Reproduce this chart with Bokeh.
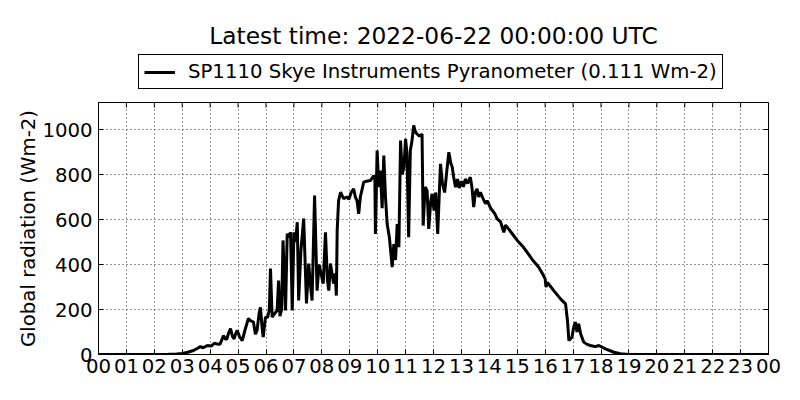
import math
from bokeh.plotting import figure
from bokeh.layouts import column
from bokeh.models import Legend, LegendItem, FixedTicker, Range1d
from bokeh.embed import file_html
from bokeh.resources import INLINE

hours = [0, 1.0, 2.0, 2.5, 2.8, 3.0, 3.2, 3.4, 3.55, 3.65, 3.75, 3.9, 4.05, 4.15, 4.25, 4.35,
         4.48, 4.55, 4.6, 4.66, 4.73, 4.8, 4.86, 4.92, 4.97, 5.05, 5.15, 5.25, 5.37, 5.45, 5.55,
         5.62, 5.68, 5.75, 5.8, 5.86, 5.9, 5.98, 6.06, 6.12, 6.16, 6.22, 6.3, 6.4, 6.45, 6.5,
         6.56, 6.61, 6.7, 6.76, 6.82, 6.88, 6.94, 7.0, 7.06, 7.12, 7.17, 7.25, 7.35, 7.45, 7.53,
         7.6, 7.65, 7.74, 7.83, 7.9, 7.95, 8.05, 8.13, 8.2, 8.25, 8.31, 8.42, 8.48, 8.52, 8.55,
         8.6, 8.67, 8.78, 8.9, 8.97, 9.05, 9.14, 9.2, 9.26, 9.32, 9.38, 9.5, 9.6, 9.74, 9.86,
         9.9, 9.92, 9.98, 10.04, 10.1, 10.16, 10.22, 10.28, 10.34, 10.42, 10.52, 10.58, 10.64,
         10.7, 10.76, 10.82, 10.88, 10.94, 11.0, 11.05, 11.11, 11.17, 11.23, 11.29, 11.35, 11.41,
         11.5, 11.59, 11.63, 11.7, 11.77, 11.83, 11.9, 11.95, 12.02, 12.08, 12.15, 12.25, 12.32,
         12.4, 12.48, 12.55, 12.62, 12.67, 12.72, 12.79, 12.86, 12.92, 13.0, 13.07, 13.14, 13.22,
         13.32, 13.38, 13.44, 13.5, 13.56, 13.62, 13.68, 13.75, 13.86, 13.92, 14.05, 14.2, 14.28,
         14.4, 14.52, 14.58, 14.64, 14.8, 15.0, 15.2, 15.35, 15.55, 15.77, 15.9, 16.0, 16.03,
         16.08, 16.3, 16.55, 16.73, 16.8, 16.85, 16.96, 17.02, 17.08, 17.14, 17.2, 17.27, 17.38,
         17.5, 17.62, 17.8, 17.92, 18.16, 18.46, 18.7, 19.0, 20.0, 21.0, 22.0, 23.0, 24.0]

radiation = [0, 0, 0, 1, 2, 5, 10, 18, 28, 35, 30, 40, 38, 50, 47, 45,
             84, 68, 70, 95, 115, 80, 70, 95, 107, 80, 62, 110, 160, 150, 144,
             90, 107, 180, 210, 120, 77, 166, 165, 200, 382, 166, 180, 196, 329, 170,
             200, 507, 196, 537, 520, 543, 196, 543, 500, 588, 240, 460, 604, 227, 404,
             300, 240, 706, 284, 400, 373, 315, 543, 330, 284, 404, 315, 360, 262, 551,
             684, 721, 693, 700, 690, 720, 736, 700, 684, 625, 700, 766, 770, 773, 795,
             780, 536, 907, 744, 818, 650, 884, 700, 580, 520, 388, 491, 420,
             580, 477, 951, 800, 833, 958, 892, 521, 907, 950, 1018, 990, 980,
             970, 980, 573, 744, 729, 558, 680, 714, 640, 720, 536, 847, 760,
             720, 820, 899, 850, 833, 790, 744, 780, 740, 770, 745, 780, 760,
             788, 740, 655, 720, 736, 700, 721, 700, 670, 684, 650, 625, 603,
             590, 543, 575, 566, 540, 507, 480, 455, 420, 388, 360, 336, 300,
             320, 285, 247, 225, 150, 62, 77, 120, 144, 100, 136, 92, 55,
             45, 40, 35, 40, 25, 10, 3, 0, 0, 0, 0, 0, 0]

x_ticks = list(range(25))
x_labels = ["%02d" % (h % 24) for h in x_ticks]
y_ticks = [0, 200, 400, 600, 800, 1000]
x_min, x_max = 0, 24
y_min, y_max = 0, 1120

title_text = "Latest time: 2022-06-22 00:00:00 UTC"
legend_text = "SP1110 Skye Instruments Pyranometer (0.111 Wm-2)"
y_label = "Global radiation (Wm-2)"
FONT = "DejaVu Sans"
BASE = "19.7px"
LINE_W = 3

# ---- header: title + legend (outside the data frame, as in the reference)
# its y range lies below all data, so the series line used as the legend key stays out of view
head = figure(frame_width=670, frame_height=50, x_range=Range1d(0, 1), y_range=Range1d(-2, -1),
              x_axis_type=None, y_axis_type=None, output_backend="svg", toolbar_location=None,
              min_border_left=98, min_border_right=16, min_border_top=50, min_border_bottom=0)
head.outline_line_color = None
head.grid.visible = False
head.title.text = title_text
head.title.align = "center"
head.title.text_font = FONT
head.title.text_font_size = "23.3px"
head.title.text_font_style = "normal"
head.title.text_color = "black"
head.title.standoff = 4

key = head.line(hours, radiation, line_color="black", line_width=LINE_W)
legend = Legend(items=[LegendItem(label=legend_text, renderers=[key])],
                location=(40, 11), orientation="horizontal")
legend.label_text_font = FONT
legend.label_text_font_size = BASE
legend.label_text_color = "black"
legend.border_line_color = "black"
legend.border_line_width = 1
legend.border_line_alpha = 1
legend.glyph_width = 31
legend.glyph_height = 20
legend.padding = 5
legend.margin = 0
legend.label_standoff = 13
head.add_layout(legend, "center")

# ---- main chart
p = figure(frame_width=670, frame_height=252,
           x_range=Range1d(x_min, x_max), y_range=Range1d(y_min, y_max),
           output_backend="svg", toolbar_location=None,
           min_border_left=98, min_border_right=16, min_border_bottom=30, min_border_top=2)

p.line(hours, radiation, line_color="black", line_width=LINE_W)

# inward ticks on the top and right edges (matplotlib classic look)
p.scatter(x_ticks, [y_max] * len(x_ticks), marker="dash", angle=math.pi / 2, size=10,
          line_color="black", line_width=1)
p.scatter([x_max] * len(y_ticks), y_ticks, marker="dash", size=10,
          line_color="black", line_width=1)

p.outline_line_color = "black"
p.outline_line_width = 1
p.outline_line_alpha = 1

for ax in (p.xaxis[0], p.yaxis[0]):
    ax.major_tick_in = 5
    ax.major_tick_out = 0
    ax.minor_tick_line_color = None
    ax.major_label_text_font = FONT
    ax.major_label_text_font_size = BASE
    ax.major_label_text_color = "black"
    ax.axis_line_color = "black"
    ax.major_tick_line_color = "black"

p.xaxis.ticker = FixedTicker(ticks=x_ticks)
p.xaxis.major_label_overrides = {t: l for t, l in zip(x_ticks, x_labels)}
p.xaxis.major_label_standoff = 4
p.yaxis.ticker = FixedTicker(ticks=y_ticks)
p.yaxis.major_label_standoff = 6
p.yaxis.axis_label = y_label
p.yaxis.axis_label_text_font = FONT
p.yaxis.axis_label_text_font_size = BASE
p.yaxis.axis_label_text_font_style = "normal"
p.yaxis.axis_label_text_color = "black"
p.yaxis.axis_label_standoff = -1

p.grid.grid_line_color = "black"
p.grid.grid_line_alpha = 0.8
p.grid.grid_line_dash = "1 3"
p.xgrid.ticker = FixedTicker(ticks=x_ticks)
p.ygrid.ticker = FixedTicker(ticks=y_ticks)

page = column(head, p, spacing=0)
open("out.html", "w").write(file_html(page, INLINE))
